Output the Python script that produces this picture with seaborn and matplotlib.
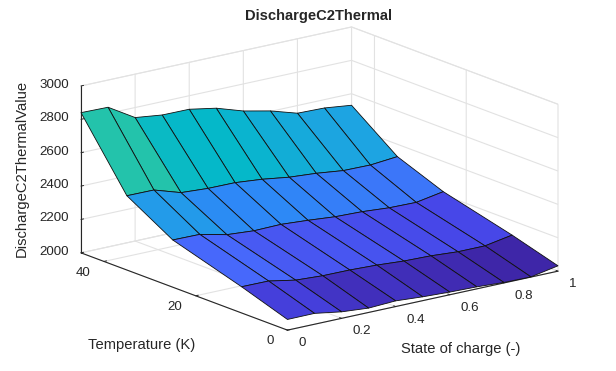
import numpy as np
import matplotlib
matplotlib.use("Agg")
import matplotlib.pyplot as plt
from matplotlib.transforms import Affine2D
import seaborn as sns
from mpl_toolkits.mplot3d import Axes3D, proj3d

soc = [0, 0.1, 0.2, 0.3, 0.4, 0.5, 0.6, 0.7, 0.8, 0.9, 1.0]
temperature = [0, 10, 25, 35, 45]
value_t0 = [2064, 2065, 2039, 2026, 2034, 2023, 2016, 2012, 2003, 2001, 2032]
value_t10 = [2157, 2156, 2126, 2117, 2116, 2110, 2099, 2095, 2084, 2084, 2113]
value_t25 = [2283, 2281, 2244, 2232, 2235, 2224, 2210, 2205, 2193, 2190, 2219]
value_t35 = [2445, 2444, 2393, 2383, 2382, 2367, 2344, 2332, 2313, 2311, 2326]
value_t45 = [2840, 2837, 2740, 2720, 2719, 2690, 2638, 2603, 2554, 2550, 2531]
x_ticks = [0, 0.2, 0.4, 0.6, 0.8, 1]
x_ticklabels = ["0", "0.2", "0.4", "0.6", "0.8", "1"]
y_ticks = [0, 20, 40]
z_ticks = [2000, 2200, 2400, 2600, 2800, 3000]
parula_anchors = ["#3e26a8", "#4744e6", "#4867fb", "#2e87f7", "#1ea3e3", "#05b8c9",
                  "#2ac5a5", "#7dcc6b", "#c7c328", "#feb935", "#f8dc2a", "#f9fb15"]

sns.set_theme(style="white")
plt.rcParams["font.family"] = ["Liberation Sans", "DejaVu Sans"]
INK = "#262626"

S, T = np.meshgrid(soc, temperature)
Z = np.array([value_t0, value_t10, value_t25, value_t35, value_t45], dtype=float)
cmap = sns.blend_palette(parula_anchors, as_cmap=True)
face = cmap((Z - Z.min()) / (Z.max() - Z.min()))

fig = plt.figure(figsize=(6.16, 3.71), dpi=100, facecolor="white")
ax = fig.add_axes([0.1, 0.1, 0.6, 0.6 * 616 / 371], projection="3d", proj_type="ortho")
ax.view_init(elev=16.6, azim=-127.35)
ax.set_box_aspect((340, 340, 174), zoom=1)
ax.set_xlim(0, 1); ax.set_ylim(0, 45); ax.set_zlim(2000, 3000)
ax.plot_surface(S, T, Z, facecolors=face, rstride=1, cstride=1, shade=False,
                edgecolor="#101010", linewidth=0.6, antialiased=True)

ax.set_xticks(x_ticks); ax.set_xticklabels(x_ticklabels)
ax.set_yticks(y_ticks); ax.set_zticks(z_ticks)
ax.tick_params(labelsize=9.6, colors=INK)
ax.tick_params(axis="x", pad=2)
ax.tick_params(axis="y", pad=1.2)
ax.tick_params(axis="z", pad=2.6)
for label in ax.get_xticklabels():
    label.set_ha("left"); label.set_va("center")
for label in ax.get_yticklabels():
    label.set_ha("right"); label.set_va("center")
for label in ax.get_zticklabels():
    label.set_va("center")
for axis in (ax.xaxis, ax.yaxis, ax.zaxis):
    axis.set_pane_color((1, 1, 1, 1))
    axis.pane.set_edgecolor("#e2e2e2")
    axis.pane.set_linewidth(0.7)
    axis.line.set_color(INK)
    axis.line.set_linewidth(0.8)
    axis._axinfo["grid"].update(color="#e2e2e2", linewidth=0.8, linestyle="-")
    axis._axinfo["tick"].update(inward_factor=0.0, outward_factor=0.12, linewidth={True: 0.7, False: 0.5})
    axis.set_rotate_label(False)
ax.grid(True)
ax.set_xlabel("State of charge (-)", fontsize=10.6, color=INK, labelpad=6)
ax.set_ylabel("Temperature (K)", fontsize=10.6, color=INK, labelpad=6)
ax.set_zlabel("DischargeC2ThermalValue", fontsize=10.6, color=INK, rotation=90, labelpad=8)

def nudge(text, dx, dy):
    text.get_transform = lambda: ax.transData + Affine2D().translate(dx, dy)
nudge(ax.xaxis.label, 8.5, -13)
nudge(ax.yaxis.label, -3, -21)
nudge(ax.zaxis.label, 15, -2)

# fit the cube to the reference's pixel frame
def px(x, y, z):
    ax.apply_aspect()
    a, b, _ = proj3d.proj_transform(x, y, z, ax.get_proj())
    d = ax.transData.transform((a, b))
    return np.array([d[0], 371 - d[1]])
size = 300.0
cx, cy = 300.0, 190.0
target_a, target_c = np.array([81.0, 253.0]), np.array([558.0, 271.0])
for _ in range(4):
    ax.set_position([(cx - size / 2) / 616, 1 - (cy + size / 2) / 371, size / 616, size / 371])
    a, c = px(0, 45, 2000), px(1, 0, 2000)
    size *= np.linalg.norm(target_c - target_a) / np.linalg.norm(c - a)
    ax.set_position([(cx - size / 2) / 616, 1 - (cy + size / 2) / 371, size / 616, size / 371])
    a, c = px(0, 45, 2000), px(1, 0, 2000)
    shift = (target_a + target_c) / 2 - (a + c) / 2
    cx += shift[0]; cy += shift[1]
ax.set_position([(cx - size / 2) / 616, 1 - (cy + size / 2) / 371, size / 616, size / 371])
ax.apply_aspect()
title_xy = ax.transAxes.inverted().transform((319, 371 + 16))
ax.set_title("DischargeC2Thermal", fontsize=10.6, fontweight="bold", color=INK, x=title_xy[0], y=title_xy[1], pad=0)

fig.savefig("out.png", dpi=100)
